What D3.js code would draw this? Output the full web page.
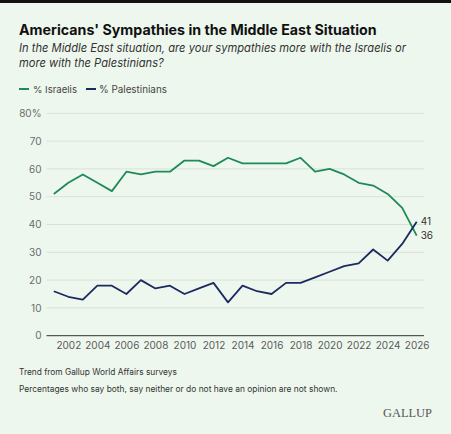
<!DOCTYPE html>
<html><head><meta charset="utf-8">
<script src="https://cdn.jsdelivr.net/npm/d3@7"></script>
<style>
html,body{margin:0;padding:0;background:#eef7ee;}
svg{display:block;}
</style></head>
<body>
<script>
const years = [2001,2002,2003,2004,2005,2006,2007,2008,2009,2010,2011,2012,2013,2014,2015,2016,2017,2018,2019,2020,2021,2022,2023,2024,2025,2026];
const israelis = [51,55,58,55,52,59,58,59,59,63,63,61,64,62,62,62,62,64,59,60,58,55,54,51,46,36];
const palestinians = [16,14,13,18,18,15,20,17,18,15,17,19,12,18,16,15,19,19,21,23,25,26,31,27,33,41];
const yTicks = [0,10,20,30,40,50,60,70,80];
const xTicks = [2002,2004,2006,2008,2010,2012,2014,2016,2018,2020,2022,2024,2026];
const seriesNames = ["% Israelis","% Palestinians"];
const colors = ["#1e8a57","#1b2a5f"];

const W=451,H=434;
const svg=d3.select("body").append("svg").attr("width",W).attr("height",H);
svg.append("rect").attr("width",W).attr("height",H).attr("fill","#eef7ee");
svg.append("rect").attr("width",W).attr("height",3).attr("fill","#111");

const font="Inter, 'Noto Sans', sans-serif";
// fit a text node's font size so that it spans a target width
function fit(sel, target){
  const n=sel.node(); const s=+sel.attr("font-size");
  const w=n.getComputedTextLength(); if(w>0) sel.attr("font-size",(s*target/w).toFixed(2));
  return sel;
}
fit(svg.append("text").attr("x",19).attr("y",35).attr("font-family",font).attr("font-weight",700)
  .attr("font-size",15).attr("fill","#111").text("Americans' Sympathies in the Middle East Situation"),358);
const s1=svg.append("text").attr("x",19).attr("y",52).attr("font-family",font).attr("font-style","italic")
  .attr("font-size",12.5).attr("fill","#333").text("In the Middle East situation, are your sympathies more with the Israelis or");
fit(s1,387);
svg.append("text").attr("x",19).attr("y",67).attr("font-family",font).attr("font-style","italic")
  .attr("font-size",s1.attr("font-size")).attr("fill","#333").text("more with the Palestinians?");

// legend
const leg=[{x:19,tx:33,w:44},{x:86,tx:99,w:68}];
seriesNames.forEach((n,i)=>{
  svg.append("line").attr("x1",leg[i].x).attr("x2",leg[i].x+10).attr("y1",89).attr("y2",89)
    .attr("stroke",colors[i]).attr("stroke-width",2);
  fit(svg.append("text").attr("x",leg[i].tx).attr("y",93).attr("font-family",font).attr("font-size",11)
    .attr("fill","#444").text(n),leg[i].w);
});

const x=d3.scaleLinear().domain([2001,2026]).range([53.8,416.7]);
const y=d3.scaleLinear().domain([0,80]).range([335.7,113.3]);
const gl=46.5, gr=424;

// grid
svg.append("g").selectAll("line").data(yTicks.filter(d=>d>0)).join("line")
  .attr("x1",gl).attr("x2",gr).attr("y1",d=>y(d)).attr("y2",d=>y(d))
  .attr("stroke","#d9e2d9").attr("stroke-width",1);

const tickSize=10;
// y axis labels
const ya=svg.append("g").attr("transform",`translate(${gl},0)`)
  .call(d3.axisLeft(y).tickValues(yTicks).tickSize(0).tickPadding(5).tickFormat(d=>d===80?"80%":d));
ya.select(".domain").remove();
ya.selectAll("text").attr("font-family",font).attr("font-size",tickSize).attr("fill","#6b6b6b");

// x axis
const xa=svg.append("g").attr("transform",`translate(0,${y(0)})`)
  .call(d3.axisBottom(x).tickValues(xTicks).tickSize(0).tickPadding(6).tickFormat(d3.format("d")));
xa.select(".domain").remove();
xa.selectAll("text").attr("font-family",font).attr("font-size",tickSize).attr("fill","#5a5a5a");
svg.append("line").attr("x1",gl).attr("x2",gr).attr("y1",y(0)).attr("y2",y(0)).attr("stroke","#333").attr("stroke-width",1);

const line=d3.line().x((d,i)=>x(years[i])).y(d=>y(d));
[israelis,palestinians].forEach((s,i)=>{
  svg.append("path").datum(s).attr("d",line).attr("fill","none").attr("stroke",colors[i])
    .attr("stroke-width",1.8).attr("stroke-linejoin","round");
});

// end labels
const last=years.length-1;
svg.append("text").attr("x",x(years[last])+4).attr("y",y(palestinians[last])+1).attr("dominant-baseline","middle")
  .attr("font-family",font).attr("font-size",tickSize).attr("fill","#333").text(palestinians[last]);
svg.append("text").attr("x",x(years[last])+4).attr("y",y(israelis[last])+1).attr("dominant-baseline","middle")
  .attr("font-family",font).attr("font-size",tickSize).attr("fill","#333").text(israelis[last]);

// footer
fit(svg.append("text").attr("x",19).attr("y",375).attr("font-family",font).attr("font-size",9).attr("fill","#333")
  .text("Trend from Gallup World Affairs surveys"),158);
fit(svg.append("text").attr("x",19).attr("y",392).attr("font-family",font).attr("font-size",9).attr("fill","#333")
  .text("Percentages who say both, say neither or do not have an opinion are not shown."),319);
fit(svg.append("text").attr("x",383).attr("y",417).attr("font-family","'Liberation Serif', 'DejaVu Serif', serif")
  .attr("font-size",13).attr("fill","#555").text("GALLUP"),49);
</script>
</body></html>
